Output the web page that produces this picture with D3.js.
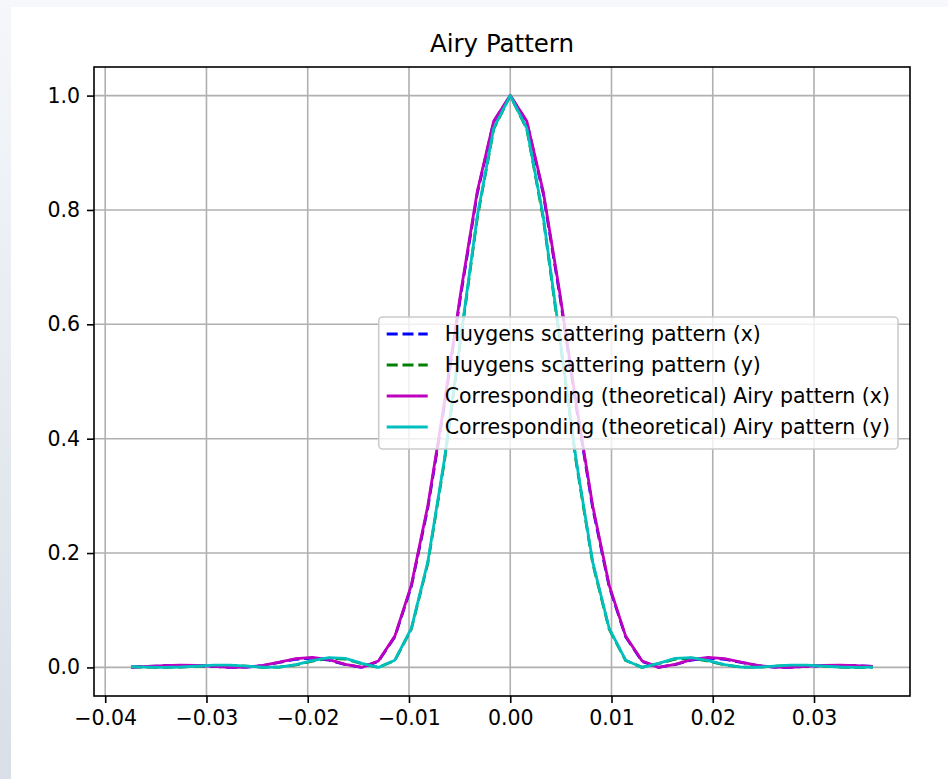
<!DOCTYPE html>
<html>
<head>
<meta charset="utf-8" />
<title>Airy Pattern</title>
<script src="https://cdn.jsdelivr.net/npm/d3@7"></script>
<style>
  body { margin: 0; overflow: hidden; background: #ffffff; }
  svg { display: block; font-family: "DejaVu Sans", sans-serif; }
</style>
</head>
<body>
<div id="chart"></div>
<script>
// sample positions (same grid for all four curves)
var xVals = [-0.037444, -0.035816, -0.034188, -0.032560, -0.030932, -0.029304, -0.027676, -0.026048,
	-0.024420, -0.022792, -0.021164, -0.019536, -0.017908, -0.016280, -0.014652, -0.013024,
	-0.011396, -0.009768, -0.008140, -0.006512, -0.004884, -0.003256, -0.001628, 0,
	0.001628, 0.003256, 0.004884, 0.006512, 0.008140, 0.009768, 0.011396, 0.013024,
	0.014652, 0.016280, 0.017908, 0.019536, 0.021164, 0.022792, 0.024420, 0.026048,
	0.027676, 0.029304, 0.030932, 0.032560, 0.034188, 0.035816];

var huygensX = [0.0004, 0.0016, 0.0029, 0.0036, 0.0032, 0.0017, 0.0002, 0.0004, 0.0033, 0.0087, 0.0143, 0.0163,
	0.0128, 0.0050, 0.0001, 0.0105, 0.0535, 0.1415, 0.2790, 0.4570, 0.6515, 0.8290, 0.9545, 1.0000,
	0.9545, 0.8290, 0.6515, 0.4570, 0.2790, 0.1415, 0.0535, 0.0105, 0.0001, 0.0050, 0.0128, 0.0163,
	0.0143, 0.0087, 0.0033, 0.0004, 0.0002, 0.0017, 0.0032, 0.0036, 0.0029, 0.0016];

var huygensY = [0.0011, 0.0004, 0.0000, 0.0007, 0.0022, 0.0035, 0.0036, 0.0020, 0.0003, 0.0006, 0.0044, 0.0110,
	0.0160, 0.0146, 0.0066, 0.0001, 0.0121, 0.0670, 0.1822, 0.3590, 0.5745, 0.7860, 0.9420, 1.0000,
	0.9420, 0.7860, 0.5745, 0.3590, 0.1822, 0.0670, 0.0121, 0.0001, 0.0066, 0.0146, 0.0160, 0.0110,
	0.0044, 0.0006, 0.0003, 0.0020, 0.0036, 0.0035, 0.0022, 0.0007, 0.0000, 0.0004];

var airyX = [0.0004, 0.0017, 0.0032, 0.0041, 0.0037, 0.0020, 0.0003, 0.0004, 0.0035, 0.0092, 0.0152, 0.0175,
	0.0137, 0.0054, 0.0000, 0.0111, 0.0547, 0.1439, 0.2828, 0.4618, 0.6561, 0.8323, 0.9557, 1.0000,
	0.9557, 0.8323, 0.6561, 0.4618, 0.2828, 0.1439, 0.0547, 0.0111, 0.0000, 0.0054, 0.0137, 0.0175,
	0.0152, 0.0092, 0.0035, 0.0004, 0.0003, 0.0020, 0.0037, 0.0041, 0.0032, 0.0017];

var airyY = [0.0012, 0.0004, 0.0000, 0.0007, 0.0024, 0.0039, 0.0040, 0.0023, 0.0003, 0.0006, 0.0047, 0.0117,
	0.0170, 0.0157, 0.0071, 0.0000, 0.0126, 0.0683, 0.1846, 0.3622, 0.5781, 0.7889, 0.9433, 1.0000,
	0.9433, 0.7889, 0.5781, 0.3622, 0.1846, 0.0683, 0.0126, 0.0000, 0.0071, 0.0157, 0.0170, 0.0117,
	0.0047, 0.0006, 0.0003, 0.0023, 0.0040, 0.0039, 0.0024, 0.0007, 0.0000, 0.0004];

var seriesNames = ['Huygens scattering pattern (x)', 'Huygens scattering pattern (y)',
	'Corresponding (theoretical) Airy pattern (x)', 'Corresponding (theoretical) Airy pattern (y)'];

var xTicks = [-0.04, -0.03, -0.02, -0.01, 0, 0.01, 0.02, 0.03];
var xTickLabels = ['\u22120.04', '\u22120.03', '\u22120.02', '\u22120.01', '0.00', '0.01', '0.02', '0.03'];
var yTicks = [0, 0.2, 0.4, 0.6, 0.8, 1.0];
var yTickLabels = ['0.0', '0.2', '0.4', '0.6', '0.8', '1.0'];

var W = 948, H = 779;
var plot = { left: 94, right: 910, top: 67, bottom: 696 };
var fontSize = 20.5;

var svg = d3.select('#chart').append('svg')
	.attr('width', W)
	.attr('height', H);

// window frame around the figure
var defs = svg.append('defs');
var grad = defs.append('linearGradient')
	.attr('id', 'edge')
	.attr('x1', 0).attr('y1', 0).attr('x2', 0).attr('y2', 1);
grad.append('stop').attr('offset', '0%').attr('stop-color', '#f5f7fa');
grad.append('stop').attr('offset', '100%').attr('stop-color', '#d8dfe7');

svg.append('rect').attr('width', W).attr('height', H).attr('fill', '#f6f8fb');
svg.append('rect').attr('x', 0).attr('y', 0).attr('width', 11).attr('height', H).attr('fill', 'url(#edge)');
svg.append('rect').attr('x', 11).attr('y', 7).attr('width', W - 11).attr('height', H - 7).attr('fill', '#ffffff');

// scales, 5% margin like matplotlib autoscale
var ext = d3.extent(xVals);
var pad = (ext[1] - ext[0]) * 0.05;
var x = d3.scaleLinear()
	.domain([ext[0] - pad, ext[1] + pad])
	.range([plot.left, plot.right]);

var y = d3.scaleLinear()
	.domain([-0.05, 1.05])
	.range([plot.bottom, plot.top]);

// grid
var grid = svg.append('g').attr('class', 'grid');
grid.selectAll('line.gx')
	.data(xTicks)
	.enter().append('line')
	.attr('x1', function (d) { return x(d); })
	.attr('x2', function (d) { return x(d); })
	.attr('y1', plot.top)
	.attr('y2', plot.bottom)
	.attr('stroke', '#b0b0b0')
	.attr('stroke-width', 1.6);
grid.selectAll('line.gy')
	.data(yTicks)
	.enter().append('line')
	.attr('x1', plot.left)
	.attr('x2', plot.right)
	.attr('y1', function (d) { return y(d); })
	.attr('y2', function (d) { return y(d); })
	.attr('stroke', '#b0b0b0')
	.attr('stroke-width', 1.6);

// curves
var series = [
	{ name: seriesNames[0], values: huygensX, color: '#0000ff', dash: '11,4.8' },
	{ name: seriesNames[1], values: huygensY, color: '#008000', dash: '11,4.8' },
	{ name: seriesNames[2], values: airyX, color: '#bf00bf', dash: null },
	{ name: seriesNames[3], values: airyY, color: '#00bfbf', dash: null }
];

var line = d3.line()
	.x(function (d, i) { return x(xVals[i]); })
	.y(function (d) { return y(d); });

svg.append('g').attr('class', 'curves')
	.selectAll('path')
	.data(series)
	.enter().append('path')
	.attr('d', function (s) { return line(s.values); })
	.attr('fill', 'none')
	.attr('stroke', function (s) { return s.color; })
	.attr('stroke-width', 2.8)
	.attr('stroke-linejoin', 'round')
	.attr('stroke-dasharray', function (s) { return s.dash; });

// axes
var xAxis = d3.axisBottom(x)
	.tickValues(xTicks)
	.tickFormat(function (d, i) { return xTickLabels[i]; })
	.tickSizeInner(7)
	.tickSizeOuter(0)
	.tickPadding(7);
var yAxis = d3.axisLeft(y)
	.tickValues(yTicks)
	.tickFormat(function (d, i) { return yTickLabels[i]; })
	.tickSizeInner(7)
	.tickSizeOuter(0)
	.tickPadding(7);

var gx = svg.append('g')
	.attr('transform', 'translate(0,' + plot.bottom + ')')
	.call(xAxis);
var gy = svg.append('g')
	.attr('transform', 'translate(' + plot.left + ',0)')
	.call(yAxis);

[gx, gy].forEach(function (g) {
	g.select('.domain').remove();
	g.selectAll('.tick line').attr('stroke', '#000').attr('stroke-width', 1.6);
	g.selectAll('.tick text')
		.attr('fill', '#000')
		.style('font-family', '"DejaVu Sans", sans-serif')
		.style('font-size', fontSize + 'px');
});

// spines
svg.append('rect')
	.attr('x', plot.left)
	.attr('y', plot.top)
	.attr('width', plot.right - plot.left)
	.attr('height', plot.bottom - plot.top)
	.attr('fill', 'none')
	.attr('stroke', '#000')
	.attr('stroke-width', 1.6);

// title
svg.append('text')
	.attr('x', (plot.left + plot.right) / 2)
	.attr('y', 52)
	.attr('text-anchor', 'middle')
	.style('font-size', '24.5px')
	.attr('fill', '#000')
	.text('Airy Pattern');

// legend
var legRight = 898, legTop = 317, rowGap = 31;
var leg = svg.append('g').attr('class', 'legend');
var legBox = leg.append('rect');
var items = leg.selectAll('g.item')
	.data(series)
	.enter().append('g')
	.attr('class', 'item');

var maxLen = 0;
items.append('text')
	.style('font-size', fontSize + 'px')
	.attr('fill', '#000')
	.text(function (s) { return s.name; })
	.each(function () { maxLen = Math.max(maxLen, this.getComputedTextLength()); });

var legW = 8 + 41 + 17 + maxLen + 8;
var legLeft = legRight - legW;
var legH = 132;

legBox
	.attr('x', legLeft)
	.attr('y', legTop)
	.attr('width', legW)
	.attr('height', legH)
	.attr('rx', 4)
	.attr('fill', '#ffffff')
	.attr('fill-opacity', 0.8)
	.attr('stroke', '#cccccc')
	.attr('stroke-width', 1.6);

items.attr('transform', function (s, i) {
	return 'translate(' + (legLeft + 8) + ',' + (legTop + 17 + i * rowGap) + ')';
});
items.insert('line', 'text')
	.attr('x1', 0)
	.attr('x2', 41)
	.attr('y1', 0)
	.attr('y2', 0)
	.attr('stroke', function (s) { return s.color; })
	.attr('stroke-width', 2.8)
	.attr('stroke-dasharray', function (s) { return s.dash; });
items.select('text')
	.attr('x', 58)
	.attr('dy', '0.36em');
</script>
</body>
</html>
